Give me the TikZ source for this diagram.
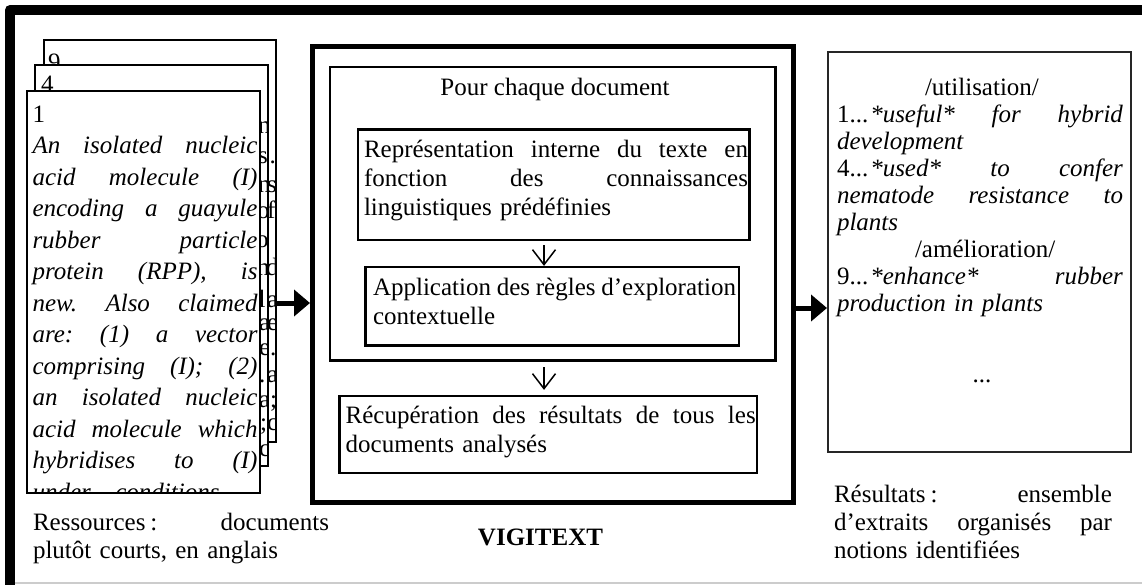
\documentclass[tikz,border=0pt]{standalone}
\usepackage{fontspec}
\setmainfont{Liberation Serif}
\usetikzlibrary{arrows.meta}
% one line stretched to the full width of the surrounding text block (justified line)
\newcommand\jl[1]{\leavevmode\hbox to \hsize{%
  \spaceskip=0.25em plus 10em minus 0.05em\relax
  \xspaceskip=\spaceskip\relax #1}}
\begin{document}
\begin{tikzpicture}[x=1pt,y=-1pt,
  page/.style={draw=black, fill=white, line width=1.2pt, inner sep=0pt},
  box/.style={draw=black, line width=2.2pt, inner sep=0pt},
  bigbox/.style={draw=black, line width=5pt, inner sep=0pt},
  resbox/.style={draw=black!85, line width=2pt, inner sep=0pt},
  txt/.style={inner sep=0pt, outer sep=0pt, anchor=base west, align=left},
  f25/.style={font={\fontsize{25}{28.7}\selectfont}},
  chr/.style={inner sep=0pt, anchor=base west, font={\fontsize{25}{28}\selectfont}},
  flow/.style={line width=1.5pt, -{Straight Barb[length=15pt,width=23pt]}},
  feed/.style={line width=5pt, -{Triangle[length=16pt,width=26pt]}},
]
\useasboundingbox (0,0) rectangle (1142,584);

% outer frame
\draw[line width=10pt, line join=round] (10,590) -- (10,10) -- (1150,10);
\draw[gray!40, line width=1.5pt] (15,583) -- (1142,583);

% stack of source documents
\node[page, minimum width=232pt, minimum height=402pt] (doc9) at (160,241) {};
\begin{scope}
  \clip (44.6,40.6) rectangle (275.4,441.4);
  \node[chr] (n9) at (48,70) {9};
  \foreach \yy/\cc/\xx [count=\k] in {163/./269.5, 192/s/267, 218/f/267, 275/d/266,
      307/a/267, 330/e/267, 355/./270, 382/a/267, 407/;/270, 430/c/267}
    \node[chr] (b\k) at (\xx,\yy) {\cc};
\end{scope}

\node[page, minimum width=233pt, minimum height=401pt] (doc4) at (151.5,265.5) {};
\begin{scope}
  \clip (35.6,65.6) rectangle (267.4,465.4);
  \node[chr] (n4) at (41,92) {4};
  \foreach \yy/\cc/\xx [count=\k] in {133/n/258, 163/s/258, 192/n/258, 218/o/257,
      247/o/256, 275/n/257, 307/l/258.5, 330/a/259, 355/e/259, 382/./259,
      407/a/259, 430/;/260, 456/c/259}
    \node[chr] (m\k) at (\xx,\yy) {\cc};
\end{scope}

\node[page, minimum width=233pt, minimum height=402pt] (doc1) at (143.5,292) {};
\begin{scope}
  \clip (27.6,91.6) rectangle (259.4,492.4);
  \node[txt, text width=225pt, font={\fontsize{25}{31.5}\selectfont}] (t1) at (32.5,122) {%
    1\\
    \itshape
    \jl{An isolated nucleic}\\
    \jl{acid molecule (I)}\\
    \jl{encoding a guayule}\\
    \jl{rubber particle}\\
    \jl{protein (RPP), is}\\
    \jl{new. Also claimed}\\
    \jl{are: (1) a vector}\\
    \jl{comprising (I); (2)}\\
    \jl{an isolated nucleic}\\
    \jl{acid molecule which}\\
    \jl{hybridises to (I)}\\
    \leavevmode\hbox to 187pt{\spaceskip=0.25em plus 10em\relax under conditions}};
\end{scope}

% VIGITEXT processing block
\node[bigbox, minimum width=481pt, minimum height=456.5pt] (vig) at (553,274.25) {};
\node[box, minimum width=445.5pt, minimum height=293.5pt] (each) at (552.75,213.75) {};
\node[box, minimum width=391.5pt, minimum height=110.5pt] (rep) at (553.75,184.75) {};
\node[box, minimum width=373.5pt, minimum height=78.5pt] (app) at (552.25,306.25) {};
\node[box, minimum width=417.5pt, minimum height=77pt] (rec) at (548.25,434.5) {};

\node[inner sep=0pt, anchor=base, f25] (eachlbl) at (555,95.7) {Pour chaque document};
\node[txt, f25, text width=384pt] (reptxt) at (364,157.7) {%
  \jl{Représentation interne du texte en}\\
  \jl{fonction des connaissances}\\
  linguistiques prédéfinies};
\node[txt, text width=363pt, font={\fontsize{25}{29.3}\selectfont}] (apptxt) at (373,295) {%
  \jl{Application des règles d’exploration}\\
  contextuelle};
\node[txt, f25, text width=410pt] (rectxt) at (345.7,423.3) {%
  \jl{Récupération des résultats de tous les}\\
  documents analysés};

\coordinate (ax) at (544,0);
\draw[flow, shorten <=4pt] (rep.south -| ax) -- (app.north -| ax);
\draw[flow, shorten <=5.5pt, shorten >=5pt] (each.south -| ax) -- (rec.north -| ax);

% results box
\node[resbox, minimum width=302.5pt, minimum height=400pt] (res) at (979.25,252) {};
\node[txt, text width=286pt, font={\fontsize{25}{27.1}\selectfont}] (restxt) at (837,95) {%
  \hspace*{88pt}/utilisation/\\
  \jl{1...\kern2pt\textit{*useful*} \textit{for} \textit{hybrid}}\\
  \textit{development}\\
  \jl{4...\kern2pt\textit{*used*} \textit{to} \textit{confer}}\\
  \jl{\itshape nematode resistance to}\\
  \textit{plants}\\
  \hspace*{78pt}/amélioration/\\
  \jl{9...\kern2pt\textit{*enhance*} \textit{rubber}}\\
  \textit{production in plants}};
\node[inner sep=0pt, anchor=base, f25] (dots) at (982,382) {...};

% data flow between the three parts
\coordinate (lin) at (0,303);
\coordinate (rout) at (0,308);
\draw[feed] (doc9.east |- lin) -- (vig.west |- lin);
\draw[feed] (vig.east |- rout) -- (res.west |- rout);

% captions
\node[txt, text width=296pt, font={\fontsize{25}{28}\selectfont}] (srclbl) at (33,530) {%
  \jl{Ressources\kern5pt: documents}\\
  plutôt courts, en anglais};
\node[inner sep=0pt, anchor=base, font={\fontsize{25}{28}\selectfont\bfseries}] (viglbl) at (540.5,545) {VIGITEXT};
\node[txt, text width=278pt, font={\fontsize{25}{28}\selectfont}] (reslbl) at (834,502) {%
  \jl{Résultats\kern5pt: ensemble}\\
  \jl{d’extraits organisés par}\\
  notions identifiées};
\end{tikzpicture}
\end{document}
